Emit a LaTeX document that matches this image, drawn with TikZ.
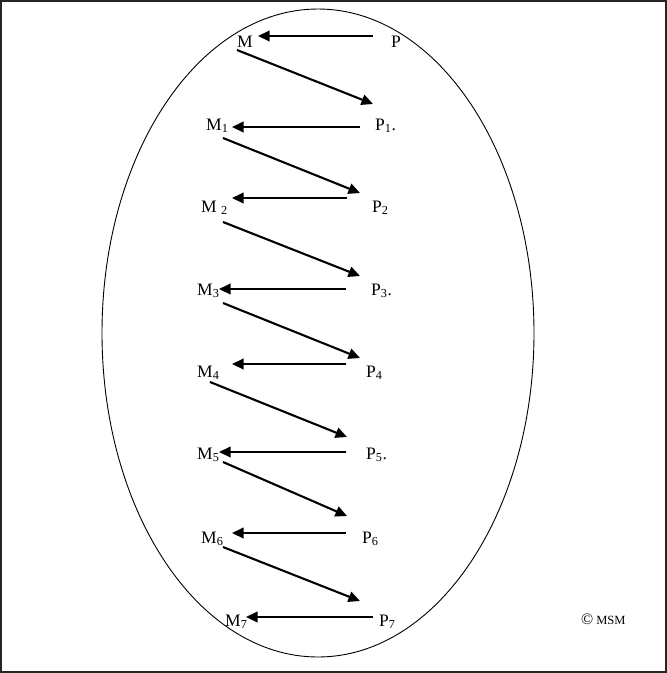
\documentclass[tikz,border=0pt]{standalone}
\usepackage{fontspec}
\setmainfont{Liberation Serif}
\usetikzlibrary{arrows.meta}
\begin{document}
\begin{tikzpicture}[x=1pt,y=-1pt,
  lbl/.style={anchor=base west,inner sep=0pt,font=\fontsize{17.5}{18}\selectfont},
  arr/.style={line width=2.1pt,-{Triangle[length=11.5pt,width=10.5pt]}}]
\useasboundingbox (0,0) rectangle (667,673);
\draw[line width=1.6pt,color=black!85] (0.8,0.8) rectangle (665.8,672.2);
\draw[line width=0.9pt] (318,333) ellipse [x radius=216, y radius=324];
% labels
\node[lbl] (M)  at (237,47)  {M};
\node[lbl] (P)  at (391,47)  {P};
\node[lbl] (M1) at (206,130) {M\textsubscript{1}};
\node[lbl] (P1) at (375,130) {P\textsubscript{1}.};
\node[lbl] (M2) at (201,212) {M \textsubscript{2}};
\node[lbl] (P2) at (372,212) {P\textsubscript{2}};
\node[lbl] (M3) at (197,295) {M\textsubscript{3}};
\node[lbl] (P3) at (371,295) {P\textsubscript{3}.};
\node[lbl] (M4) at (197,377) {M\textsubscript{4}};
\node[lbl] (P4) at (366,377) {P\textsubscript{4}};
\node[lbl] (M5) at (197,459) {M\textsubscript{5}};
\node[lbl] (P5) at (366,459) {P\textsubscript{5}.};
\node[lbl] (M6) at (201,543) {M\textsubscript{6}};
\node[lbl] (P6) at (362,543) {P\textsubscript{6}};
\node[lbl] (M7) at (225,626) {M\textsubscript{7}};
\node[lbl] (P7) at (379,626) {P\textsubscript{7}};
\node[anchor=base west,inner sep=0pt] (cp) at (581,624)
  {\fontsize{16}{16}\selectfont\textcopyright\kern3pt\fontsize{12.5}{13}\selectfont MSM};
% arrow end points
\coordinate (h0s) at (373,36);  \coordinate (h0e) at (258,36);
\coordinate (d0s) at (237,50);  \coordinate (d0e) at (373,104);
\coordinate (h1s) at (360,127); \coordinate (h1e) at (232,127);
\coordinate (d1s) at (223,138); \coordinate (d1e) at (360,193);
\coordinate (h2s) at (347,198); \coordinate (h2e) at (232,198);
\coordinate (d2s) at (223,222); \coordinate (d2e) at (360,276);
\coordinate (h3s) at (346,289); \coordinate (h3e) at (219,289);
\coordinate (d3s) at (223,303); \coordinate (d3e) at (360,358);
\coordinate (h4s) at (346,364); \coordinate (h4e) at (232,364);
\coordinate (d4s) at (210,382); \coordinate (d4e) at (347,437);
\coordinate (h5s) at (346,452); \coordinate (h5e) at (219,452);
\coordinate (d5s) at (223,462); \coordinate (d5e) at (347,516);
\coordinate (h6s) at (346,533); \coordinate (h6e) at (232,533);
\coordinate (d6s) at (223,547); \coordinate (d6e) at (360,601);
\coordinate (h7s) at (373,617); \coordinate (h7e) at (246,617);
\foreach \i in {0,...,7} {\draw[arr] (h\i s) -- (h\i e);}
\foreach \i in {0,...,6} {\draw[arr] (d\i s) -- (d\i e);}
\end{tikzpicture}
\end{document}
